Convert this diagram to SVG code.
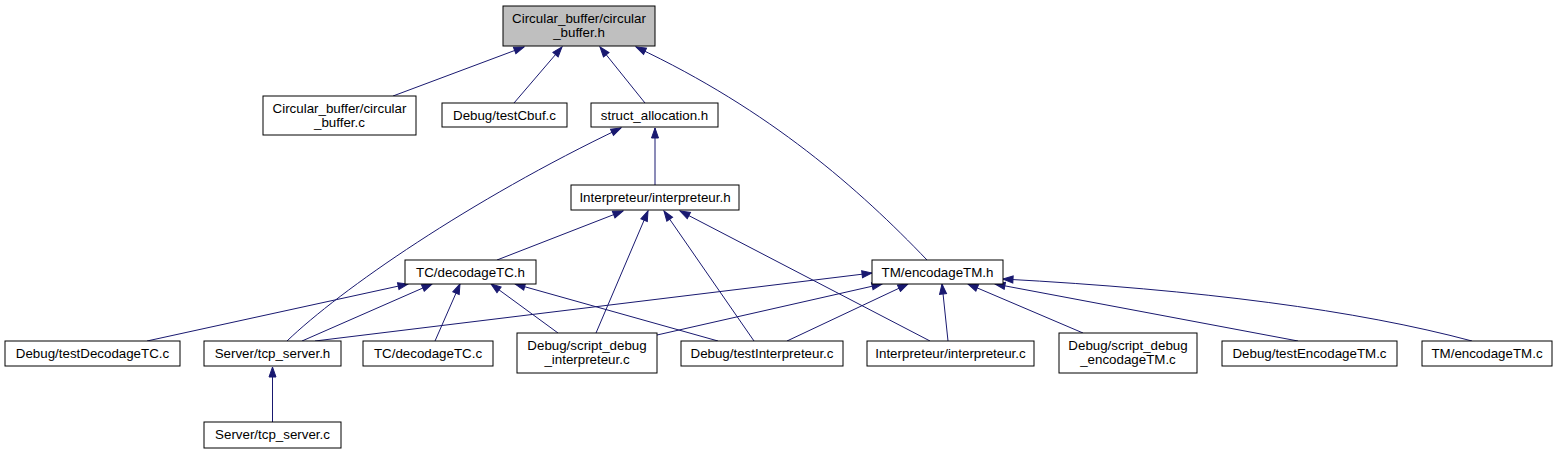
<svg xmlns="http://www.w3.org/2000/svg" width="1558" height="455" viewBox="0 0 1558 455">
<style>
.n rect{fill:#ffffff;stroke:#000000;stroke-width:1}
.n.root rect{fill:#bfbfbf}
.n text{font-family:"Liberation Sans",Arial,Helvetica,sans-serif;font-size:13.33px;fill:#000000;text-anchor:middle}
.e path,.e line{fill:none;stroke:#191970;stroke-width:1;marker-end:url(#ah)}
</style>
<defs>
<marker id="ah" markerUnits="userSpaceOnUse" markerWidth="12" markerHeight="9" viewBox="-1 -1 12 9" refX="10" refY="3.5" orient="auto">
<path d="M0,0 L10,3.5 L0,7 z" fill="#191970" stroke="#191970" stroke-width="1"/>
</marker>
</defs>
<rect width="1558" height="455" fill="#ffffff"/>
<g id="connectors" class="e">
<line x1="393" y1="96" x2="524" y2="47"/>
<line x1="514" y1="103" x2="562" y2="47"/>
<line x1="645" y1="103" x2="600" y2="47"/>
<path d="M927,260 C860,190 770,110 636,47"/>
<line x1="655" y1="185" x2="655" y2="128"/>
<path d="M287,341 C340,290 470,200 621,128"/>
<line x1="497" y1="260" x2="623" y2="211"/>
<line x1="596" y1="333" x2="648" y2="211"/>
<line x1="754" y1="341" x2="664" y2="211"/>
<line x1="930" y1="341" x2="680" y2="211"/>
<line x1="315" y1="341" x2="872" y2="273"/>
<line x1="657" y1="335" x2="882" y2="284"/>
<line x1="787" y1="341" x2="908" y2="284"/>
<line x1="948" y1="341" x2="942" y2="284"/>
<line x1="1083" y1="333" x2="968" y2="284"/>
<line x1="1298" y1="341" x2="995" y2="284"/>
<path d="M1472,341 Q1300,295 1003,279"/>
<line x1="147" y1="341" x2="408" y2="284"/>
<line x1="302" y1="341" x2="432" y2="284"/>
<line x1="435" y1="341" x2="460" y2="284"/>
<line x1="558" y1="333" x2="491" y2="284"/>
<line x1="718" y1="341" x2="515" y2="284"/>
<line x1="272.5" y1="422" x2="272.5" y2="367"/>
</g>
<g id="node_circular_buffer_h" class="n root"><rect x="503" y="6" width="152" height="40"/><text x="579" y="23">Circular_buffer/circular</text><text x="579" y="37">_buffer.h</text></g>
<g id="node_circular_buffer_c" class="n"><rect x="263" y="96" width="153" height="39"/><text x="339.5" y="112.5">Circular_buffer/circular</text><text x="339.5" y="126.5">_buffer.c</text></g>
<g id="node_testCbuf" class="n"><rect x="442" y="103" width="125" height="24"/><text x="504.5" y="119.5">Debug/testCbuf.c</text></g>
<g id="node_struct_allocation" class="n"><rect x="591" y="103" width="127" height="24"/><text x="654.5" y="119.5">struct_allocation.h</text></g>
<g id="node_interpreteur_h" class="n"><rect x="571" y="185" width="168" height="25"/><text x="655" y="202">Interpreteur/interpreteur.h</text></g>
<g id="node_decodageTC_h" class="n"><rect x="405" y="260" width="131" height="24"/><text x="470.5" y="276.5">TC/decodageTC.h</text></g>
<g id="node_encodageTM_h" class="n"><rect x="872" y="260" width="131" height="24"/><text x="937.5" y="276.5">TM/encodageTM.h</text></g>
<g id="node_testDecodageTC" class="n"><rect x="5" y="341" width="175" height="25"/><text x="92.5" y="358">Debug/testDecodageTC.c</text></g>
<g id="node_tcp_server_h" class="n"><rect x="204" y="341" width="137" height="25"/><text x="272.5" y="358">Server/tcp_server.h</text></g>
<g id="node_decodageTC_c" class="n"><rect x="363" y="341" width="130" height="25"/><text x="428" y="358">TC/decodageTC.c</text></g>
<g id="node_script_debug_interpreteur" class="n"><rect x="517" y="333" width="140" height="40"/><text x="587" y="350">Debug/script_debug</text><text x="587" y="364">_interpreteur.c</text></g>
<g id="node_testInterpreteur" class="n"><rect x="681" y="341" width="162" height="25"/><text x="762" y="358">Debug/testInterpreteur.c</text></g>
<g id="node_interpreteur_c" class="n"><rect x="867" y="341" width="167" height="25"/><text x="950.5" y="358">Interpreteur/interpreteur.c</text></g>
<g id="node_script_debug_encodageTM" class="n"><rect x="1059" y="333" width="138" height="40"/><text x="1128" y="350">Debug/script_debug</text><text x="1128" y="364">_encodageTM.c</text></g>
<g id="node_testEncodageTM" class="n"><rect x="1222" y="341" width="175" height="25"/><text x="1309.5" y="358">Debug/testEncodageTM.c</text></g>
<g id="node_encodageTM_c" class="n"><rect x="1422" y="341" width="130" height="25"/><text x="1487" y="358">TM/encodageTM.c</text></g>
<g id="node_tcp_server_c" class="n"><rect x="204" y="422" width="137" height="26"/><text x="272.5" y="439">Server/tcp_server.c</text></g>
</svg>
